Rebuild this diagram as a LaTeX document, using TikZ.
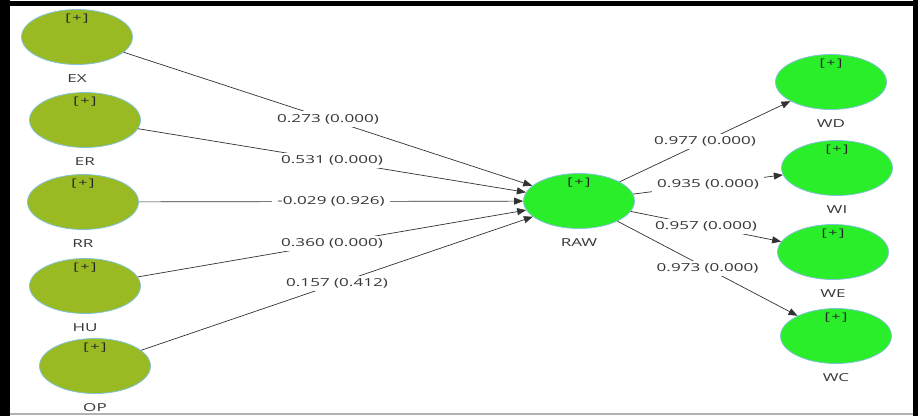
\documentclass[tikz,border=0pt]{standalone}
\usepackage{fontspec}
\newfontfamily\lblfont[FakeStretch=1.55]{Open Sans}
\usetikzlibrary{shapes.geometric,arrows.meta,calc}
\definecolor{olivelv}{RGB}{154,186,36}
\definecolor{greenlv}{RGB}{43,238,43}
\definecolor{rimblue}{RGB}{130,195,215}
\definecolor{txtgray}{RGB}{55,55,60}
\definecolor{linegray}{RGB}{50,50,50}
\tikzset{
  lvbase/.style={ellipse, minimum width=111pt, minimum height=55pt, inner sep=0pt, draw=rimblue, line width=0.8pt},
  lvold/.style={lvbase, fill=olivelv},
  lvnew/.style={lvbase, fill=greenlv},
  plustxt/.style={font=\lblfont\fontsize{10.5}{12}\selectfont, text=black!85, inner sep=0pt},
  nametxt/.style={font=\lblfont\fontsize{11}{13}\selectfont, text=txtgray, inner sep=0pt},
  edge/.style={draw=linegray, line width=0.7pt, -{Triangle[length=9pt,width=7pt]}},
  elbl/.style={font=\lblfont\fontsize{11}{13}\selectfont, text=txtgray, fill=white, inner xsep=5pt, inner ysep=3pt}
}
\begin{document}
\begin{tikzpicture}[x=1pt,y=-1pt]
\useasboundingbox (0,0) rectangle (918,416);
\fill[white] (0,0) rectangle (918,416);
% frame
\fill[black] (0,0) rectangle (10,416);
\fill[black] (0,1) rectangle (918,6);
\fill[black] (913,0) rectangle (918,416);
\fill[gray!60] (10,412.5) rectangle (913,414.5);
% latent variables
\node[lvold] (EX) at (77,37) {};
\node[lvold] (ER) at (85,120) {};
\node[lvold] (RR) at (83,202) {};
\node[lvold] (HU) at (85,286) {};
\node[lvold] (OP) at (95,366) {};
\node[lvnew] (RAW) at (579,201) {};
\node[lvnew] (WD) at (831,82) {};
\node[lvnew] (WI) at (837,168) {};
\node[lvnew] (WE) at (833,252) {};
\node[lvnew] (WC) at (836,336) {};
% [+] markers and names
\foreach \n in {EX,ER,RR,HU,OP,RAW,WD,WI,WE,WC}{
  \node[plustxt] (\n p) at ([yshift=-9pt]\n.north) {[\kern1.5pt+\kern1.5pt]};
  \node[nametxt] (\n l) at ([yshift=-42pt]\n.center) {\n};
}
% paths
\draw[edge] (EX) -- node[elbl] {0.273 (0.000)} (RAW);
\draw[edge] (ER) -- node[elbl] {0.531 (0.000)} (RAW);
\draw[edge] (RR) -- node[elbl] {-0.029 (0.926)} (RAW);
\draw[edge] (HU) -- node[elbl] {0.360 (0.000)} (RAW);
\draw[edge] (OP) -- node[elbl] {0.157 (0.412)} (RAW);
\draw[edge] (RAW) -- node[elbl] {0.977 (0.000)} (WD);
\draw[edge] (RAW) -- node[elbl] {0.935 (0.000)} (WI);
\draw[edge] (RAW) -- node[elbl] {0.957 (0.000)} (WE);
\draw[edge] (RAW) -- node[elbl] {0.973 (0.000)} (WC);
\end{tikzpicture}
\end{document}
